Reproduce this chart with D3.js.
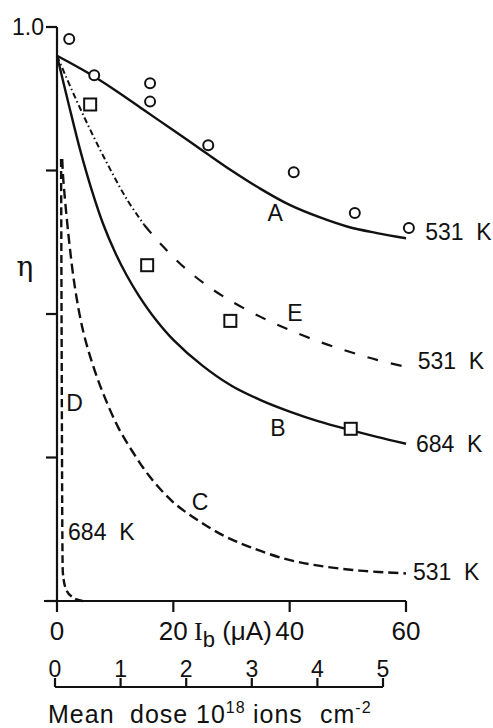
<!DOCTYPE html>
<html>
<head>
<meta charset="utf-8">
<script src="https://cdn.jsdelivr.net/npm/d3@7"></script>
<style>
  body { margin: 0; background: #fff; }
  svg { display: block; }
  text { font-family: "Liberation Sans", Arial, sans-serif; fill: #111; white-space: pre; }
  .curve { fill: none; stroke: #111; stroke-width: 2.4; }
  .axis-line { fill: none; stroke: #111; stroke-width: 2.2; }
</style>
</head>
<body>
<svg></svg>
<script>

//begin: data
var currentTicks = [0, 20, 40, 60];          // I_b (uA)
var doseTicks = [0, 1, 2, 3, 4, 5];          // mean dose 10^18 ions cm^-2
var etaTicks = [0, 0.25, 0.5, 0.75, 1.0];
var etaLabels = ["", "", "", "", "1.0"];

// [I_b, eta]
var curveA = [[0,0.95],[5,0.922],[10,0.89],[15,0.855],[20,0.82],[25,0.785],[30,0.75],[35,0.718],[40,0.69],[45,0.669],[50,0.652],[55,0.641],[60,0.632]];
var curveB = [[0,0.95],[2,0.866],[4,0.785],[6,0.715],[8,0.655],[10,0.607],[12,0.567],[14,0.533],[17,0.49],[20,0.455],[25,0.41],[30,0.375],[35,0.35],[40,0.33],[45,0.313],[50,0.299],[55,0.286],[60,0.274]];
var curveC = [[0.9,0.77],[1.05,0.739],[2,0.635],[3.1,0.545],[4.5,0.47],[6.2,0.41],[8,0.36],[10.5,0.303],[13,0.26],[16,0.216],[20,0.172],[24.6,0.138],[29,0.112],[33.2,0.094],[39,0.074],[44.7,0.062],[52,0.053],[60,0.048]];
var curveD = [[0.7,0.77],[0.8,0.45],[0.9,0.15],[1.0,0.05],[1.5,0.022],[2.6,0.007],[4.4,0.0]];
var curveE = [[0,0.95],[3,0.88],[6,0.815],[9,0.755],[12,0.70],[15,0.655],[18,0.62],[22,0.58],[26,0.548],[30,0.522],[35,0.495],[40,0.472],[45,0.452],[50,0.435],[55,0.42],[60,0.408]];
var curveESplit = 15;   // dash-dot before, dashed after

var circlePts = [[2.1,0.979],[6.4,0.916],[16.0,0.902],[16.0,0.870],[26.0,0.794],[40.7,0.747],[51.2,0.676],[60.5,0.650]];
var squarePts = [[5.7,0.865],[15.5,0.585],[29.8,0.488],[50.5,0.300]];

var curveLabels = [
  {text: "A", I: 37.5, eta: 0.676},
  {text: "E", I: 40.9, eta: 0.502},
  {text: "B", I: 38.0, eta: 0.301},
  {text: "C", I: 24.6, eta: 0.172},
  {text: "D", I: 3.0, eta: 0.345}
];
var tempLabels = [
  {text: "531  K", I: 63.3, eta: 0.643},
  {text: "531  K", I: 62.0, eta: 0.418},
  {text: "684  K", I: 61.7, eta: 0.274},
  {text: "531  K", I: 61.2, eta: 0.051},
  {text: "684  K", I: 1.9, eta: 0.120}
];
//end: data

//begin: layout conf.
var svgWidth = 493,
    svgHeight = 728;
var x = d3.scaleLinear().domain([0, 60]).range([57, 406]);
var y = d3.scaleLinear().domain([0, 1]).range([601, 27]);
var xDose = d3.scaleLinear().domain([0, 5]).range([55, 383]);
var doseAxisY = 687;
//end: layout conf.

var svg = d3.select("svg")
    .attr("width", svgWidth)
    .attr("height", svgHeight);

var smoothLine = d3.line()
    .x(function(d){ return x(d[0]); })
    .y(function(d){ return y(d[1]); })
    .curve(d3.curveCatmullRom.alpha(0.5));
var steepLine = d3.line()
    .x(function(d){ return x(d[0]); })
    .y(function(d){ return y(d[1]); })
    .curve(d3.curveMonotoneX);

//begin: axes
var g = svg.append("g");

// eta axis
g.append("line").attr("class", "axis-line")
    .attr("x1", x(0)).attr("x2", x(0))
    .attr("y1", y(1)).attr("y2", y(0));
g.selectAll(".ytick").data(etaTicks).enter()
  .append("line").attr("class", "axis-line ytick")
    .attr("x1", x(0) - 11).attr("x2", x(0))
    .attr("y1", function(d){ return y(d); })
    .attr("y2", function(d){ return y(d); });
g.selectAll(".ylab").data(etaTicks).enter()
  .append("text").attr("class", "ylab")
    .attr("x", x(0) - 13)
    .attr("y", function(d){ return y(d) + 8; })
    .attr("text-anchor", "end")
    .style("font-size", "23px")
    .text(function(d, i){ return etaLabels[i]; });
g.append("text")
    .attr("x", 25).attr("y", 276)
    .attr("text-anchor", "middle")
    .style("font-family", "'DejaVu Serif', serif")
    .style("font-size", "28px")
    .text("\u03b7");

// I_b axis
g.append("line").attr("class", "axis-line")
    .attr("x1", 44).attr("x2", x(60))
    .attr("y1", y(0)).attr("y2", y(0));
g.selectAll(".xtick").data(currentTicks).enter()
  .append("line").attr("class", "axis-line xtick")
    .attr("x1", function(d){ return x(d); })
    .attr("x2", function(d){ return x(d); })
    .attr("y1", y(0)).attr("y2", y(0) + 11);
g.selectAll(".xlab").data(currentTicks).enter()
  .append("text").attr("class", "xlab")
    .attr("x", function(d){ return x(d); })
    .attr("y", 640)
    .attr("text-anchor", "middle")
    .style("font-size", "26px")
    .text(function(d){ return d; });
var ib = g.append("text").attr("x", 194).attr("y", 640).style("font-size", "26px");
ib.append("tspan").style("font-family", "'Liberation Serif', serif").text("I");
ib.append("tspan").attr("dy", 7).style("font-size", "22px").text("b");
ib.append("tspan").attr("dy", -7).text(" (\u03bcA)");

// dose axis
g.append("line").attr("class", "axis-line")
    .attr("x1", xDose(0)).attr("x2", xDose(5))
    .attr("y1", doseAxisY).attr("y2", doseAxisY);
g.selectAll(".dtick").data(doseTicks).enter()
  .append("line").attr("class", "axis-line dtick")
    .attr("x1", function(d){ return xDose(d); })
    .attr("x2", function(d){ return xDose(d); })
    .attr("y1", doseAxisY - 9).attr("y2", doseAxisY);
g.selectAll(".dlab").data(doseTicks).enter()
  .append("text").attr("class", "dlab")
    .attr("x", function(d){ return xDose(d); })
    .attr("y", 677)
    .attr("text-anchor", "middle")
    .style("font-size", "23px")
    .text(function(d){ return d; });
var md = g.append("text").attr("y", 723).style("font-size", "25px").style("letter-spacing", "1px");
md.append("tspan").attr("x", 48).text("Mean");
md.append("tspan").attr("x", 130).text("dose");
md.append("tspan").attr("x", 196).text("10");
md.append("tspan").attr("dy", -10).style("font-size", "16px").text("18");
md.append("tspan").attr("x", 253).attr("dy", 10).text("ions");
md.append("tspan").attr("x", 320).text("cm");
md.append("tspan").attr("dy", -10).style("font-size", "16px").text("-2");
//end: axes

//begin: curves
var curves = svg.append("g");
curves.append("path").attr("class", "curve").attr("d", smoothLine(curveA));
curves.append("path").attr("class", "curve").attr("d", smoothLine(curveB));
curves.append("path").attr("class", "curve")
    .style("stroke-dasharray", "10,5")
    .attr("d", smoothLine(curveC));
curves.append("path").attr("class", "curve")
    .style("stroke-dasharray", "8,4")
    .attr("d", steepLine(curveD));
curves.append("path").attr("class", "curve")
    .style("stroke-width", 2)
    .style("stroke-dasharray", "6,3,1.5,3")
    .attr("d", smoothLine(curveE.filter(function(d){ return d[0] <= curveESplit; })));
curves.append("path").attr("class", "curve")
    .style("stroke-width", 2.2)
    .style("stroke-dasharray", "11,13")
    .attr("d", smoothLine(curveE.filter(function(d){ return d[0] >= curveESplit; })));
//end: curves

//begin: markers
var marks = svg.append("g");
marks.selectAll(".circ").data(circlePts).enter()
  .append("circle").attr("class", "circ")
    .attr("cx", function(d){ return x(d[0]); })
    .attr("cy", function(d){ return y(d[1]); })
    .attr("r", 5)
    .style("fill", "#fff").style("stroke", "#111").style("stroke-width", 2);
marks.selectAll(".sq").data(squarePts).enter()
  .append("rect").attr("class", "sq")
    .attr("x", function(d){ return x(d[0]) - 6; })
    .attr("y", function(d){ return y(d[1]) - 6; })
    .attr("width", 12).attr("height", 12)
    .style("fill", "#fff").style("stroke", "#111").style("stroke-width", 2);
//end: markers

//begin: labels
svg.append("g").selectAll("text").data(curveLabels).enter()
  .append("text")
    .attr("x", function(d){ return x(d.I); })
    .attr("y", function(d){ return y(d.eta) + 8; })
    .attr("text-anchor", "middle")
    .style("font-size", "23px")
    .text(function(d){ return d.text; });
svg.append("g").selectAll("text").data(tempLabels).enter()
  .append("text")
    .attr("x", function(d){ return x(d.I); })
    .attr("y", function(d){ return y(d.eta) + 8; })
    .style("font-size", "23px")
    .text(function(d){ return d.text; });
//end: labels

</script>
</body>
</html>
